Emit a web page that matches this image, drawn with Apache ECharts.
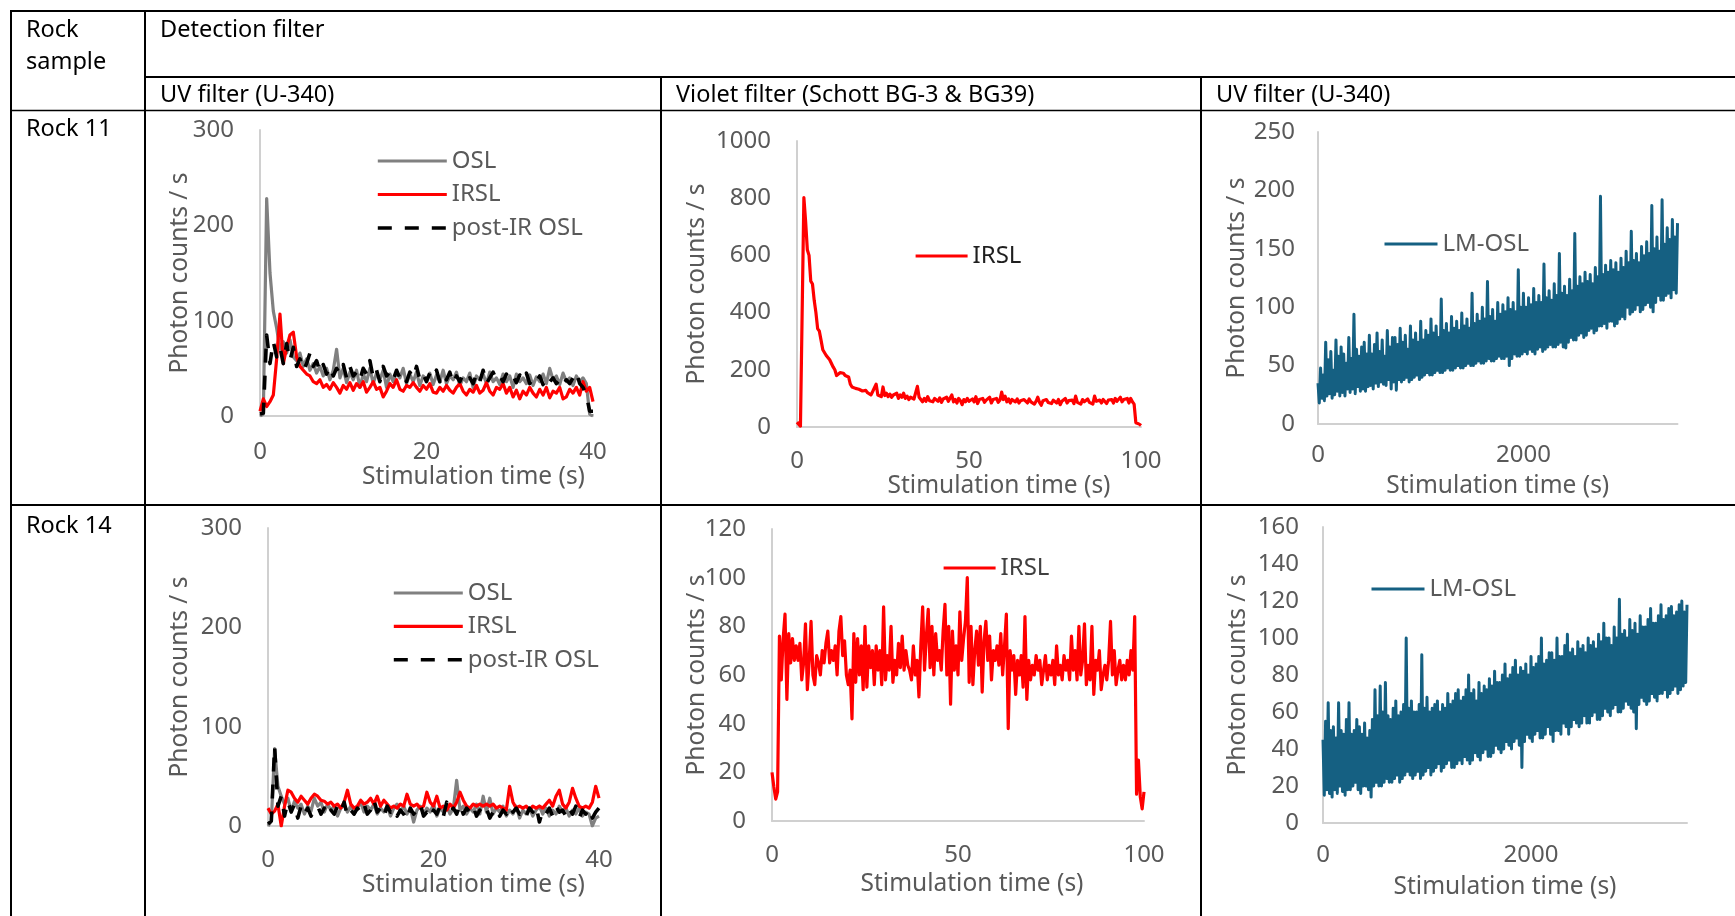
<!DOCTYPE html>
<html>
<head>
<meta charset="utf-8">
<title>Luminescence signals of rock samples</title>
<script src="https://cdn.jsdelivr.net/npm/echarts@6/dist/echarts.min.js"></script>
<style>
  html, body { margin: 0; padding: 0; background: #ffffff; }
  #chart { width: 1735px; height: 916px; }
</style>
</head>
<body>
<div id="chart"></div>
<script>
// ---------- Time axes (s) ----------
const timeShort = [0,0.4,0.8,1.2,1.6,2,2.4,2.8,3.2,3.6,4,4.4,4.8,5.2,5.6,6,6.4,6.8,7.2,7.6,8,8.4,8.8,9.2,9.6,10,10.4,10.8,11.2,11.6,12,12.4,12.8,13.2,13.6,14,14.4,14.8,15.2,15.6,16,16.4,16.8,17.2,17.6,18,18.4,18.8,19.2,19.6,20,20.4,20.8,21.2,21.6,22,22.4,22.8,23.2,23.6,24,24.4,24.8,25.2,25.6,26,26.4,26.8,27.2,27.6,28,28.4,28.8,29.2,29.6,30,30.4,30.8,31.2,31.6,32,32.4,32.8,33.2,33.6,34,34.4,34.8,35.2,35.6,36,36.4,36.8,37.2,37.6,38,38.4,38.8,39.2,39.6,40];
const timeLong = [0,0.5,1,1.5,2,2.5,3,3.5,4,4.5,5,5.5,6,6.5,7,7.5,8,8.5,9,9.5,10,10.5,11,11.5,12,12.5,13,13.5,14,14.5,15,15.5,16,16.5,17,17.5,18,18.5,19,19.5,20,20.5,21,21.5,22,22.5,23,23.5,24,24.5,25,25.5,26,26.5,27,27.5,28,28.5,29,29.5,30,30.5,31,31.5,32,32.5,33,33.5,34,34.5,35,35.5,36,36.5,37,37.5,38,38.5,39,39.5,40,40.5,41,41.5,42,42.5,43,43.5,44,44.5,45,45.5,46,46.5,47,47.5,48,48.5,49,49.5,50,50.5,51,51.5,52,52.5,53,53.5,54,54.5,55,55.5,56,56.5,57,57.5,58,58.5,59,59.5,60,60.5,61,61.5,62,62.5,63,63.5,64,64.5,65,65.5,66,66.5,67,67.5,68,68.5,69,69.5,70,70.5,71,71.5,72,72.5,73,73.5,74,74.5,75,75.5,76,76.5,77,77.5,78,78.5,79,79.5,80,80.5,81,81.5,82,82.5,83,83.5,84,84.5,85,85.5,86,86.5,87,87.5,88,88.5,89,89.5,90,90.5,91,91.5,92,92.5,93,93.5,94,94.5,95,95.5,96,96.5,97,97.5,98,98.5,99,99.5,100];
const timeLM = [0,12.5,25,37.5,50,62.5,75,87.5,100,112.5,125,137.5,150,162.5,175,187.5,200,212.5,225,237.5,
  250,262.5,275,287.5,300,312.5,325,337.5,350,362.5,375,387.5,400,412.5,425,437.5,450,462.5,475,487.5,
  500,512.5,525,537.5,550,562.5,575,587.5,600,612.5,625,637.5,650,662.5,675,687.5,700,712.5,725,737.5,
  750,762.5,775,787.5,800,812.5,825,837.5,850,862.5,875,887.5,900,912.5,925,937.5,950,962.5,975,987.5,
  1000,1012.5,1025,1037.5,1050,1062.5,1075,1087.5,1100,1112.5,1125,1137.5,1150,1162.5,1175,1187.5,1200,1212.5,1225,1237.5,
  1250,1262.5,1275,1287.5,1300,1312.5,1325,1337.5,1350,1362.5,1375,1387.5,1400,1412.5,1425,1437.5,1450,1462.5,1475,1487.5,
  1500,1512.5,1525,1537.5,1550,1562.5,1575,1587.5,1600,1612.5,1625,1637.5,1650,1662.5,1675,1687.5,1700,1712.5,1725,1737.5,
  1750,1762.5,1775,1787.5,1800,1812.5,1825,1837.5,1850,1862.5,1875,1887.5,1900,1912.5,1925,1937.5,1950,1962.5,1975,1987.5,
  2000,2012.5,2025,2037.5,2050,2062.5,2075,2087.5,2100,2112.5,2125,2137.5,2150,2162.5,2175,2187.5,2200,2212.5,2225,2237.5,
  2250,2262.5,2275,2287.5,2300,2312.5,2325,2337.5,2350,2362.5,2375,2387.5,2400,2412.5,2425,2437.5,2450,2462.5,2475,2487.5,
  2500,2512.5,2525,2537.5,2550,2562.5,2575,2587.5,2600,2612.5,2625,2637.5,2650,2662.5,2675,2687.5,2700,2712.5,2725,2737.5,
  2750,2762.5,2775,2787.5,2800,2812.5,2825,2837.5,2850,2862.5,2875,2887.5,2900,2912.5,2925,2937.5,2950,2962.5,2975,2987.5,
  3000,3012.5,3025,3037.5,3050,3062.5,3075,3087.5,3100,3112.5,3125,3137.5,3150,3162.5,3175,3187.5,3200,3212.5,3225,3237.5,
  3250,3262.5,3275,3287.5,3300,3312.5,3325,3337.5,3350,3362.5,3375,3387.5,3400,3412.5,3425,3437.5,3450,3462.5,3475,3487.5,
  3500];

// ---------- Rock 11, UV filter (U-340): photon counts / s ----------
const rock11OSL = [0,2,228,150,110,92,70,78,66,80, 62,58,66,52,60,48,55,45,52,42, 50,38,48,70,40,50,35,46,38,48, 30,44,36,50,34,45,38,48,30,44, 36,46,40,50,34,44,36,46,32,42, 38,45,33,43,36,48,34,42,38,46, 32,40,36,45,30,42,38,44,34,46, 36,40,33,44,36,42,30,44,36,40, 34,43,32,41,36,44,34,50,38,42, 33,45,36,40,32,42,36,40,34,2, 0];
const rock11IRSL = [5,18,10,15,22,60,107,55,72,85, 88,62,52,48,44,42,36,34,38,30, 33,28,35,30,24,32,28,35,27,34, 30,36,25,30,36,28,30,20,26,34, 30,38,28,26,32,30,35,30,26,32, 28,34,25,24,30,26,32,27,24,30, 34,26,22,28,25,32,24,27,35,26, 22,30,28,34,24,30,20,27,18,26, 22,30,24,20,28,22,30,19,26,24, 30,18,20,28,24,30,22,36,26,30, 15];
const rock11PostIR = [2,3,85,55,78,62,72,55,76,58, 72,52,60,48,55,66,52,58,46,54, 44,52,42,50,44,54,40,52,42,46, 38,50,44,58,40,48,36,52,42,46, 38,48,40,44,36,46,40,52,38,44, 36,45,40,48,36,44,38,46,34,42, 36,44,38,40,34,44,36,48,34,40, 46,38,42,36,44,38,42,35,43,37, 45,34,40,36,42,33,41,36,40,34, 38,32,38,34,40,46,34,30,22,5, 5];

// ---------- Rock 11, violet filter (Schott BG-3 & BG39): IRSL ----------
const rock11VioletIRSL = [17,10,3,0,802,720,620,600,510,500, 443,400,344,335,303,270,268,250,245,235, 239,210,200,180,175,190,195,188,180,185, 175,150,140,145,135,140,132,138,126,130, 128,120,126,112,124,130,150,112,118,106, 140,110,118,106,115,104,112,110,118,100, 112,104,118,100,108,96,104,110,98,94, 142,104,96,88,100,90,106,92,98,88, 100,94,90,102,86,98,92,104,90,96, 112,88,96,84,100,92,78,96,88,100, 90,84,98,88,106,82,96,90,100,86, 94,88,104,84,96,90,100,86,94,122, 96,108,88,98,84,96,90,88,98,84, 92,86,96,90,84,98,88,92,80,90, 104,86,76,92,88,96,86,90,82,94, 88,84,96,78,90,86,100,84,92,86, 94,82,108,86,90,80,96,88,84,98, 86,92,80,108,90,86,94,84,96,90, 82,94,88,96,84,100,90,86,104,88, 96,90,100,84,100,88,80,15,14,10, 5];

// ---------- Rock 11, UV filter (U-340): LM-OSL ----------
const rock11LMOSL = [
  35,18,48,22,42,20,70,24,55,26,62,22,46,25,72,28,58,24,66,27,
  60,24,52,30,74,27,56,30,94,26,64,32,58,28,66,30,70,28,60,32,
  76,33,60,30,68,35,78,32,62,36,72,34,58,33,80,38,66,30,74,36,
  74,29,68,38,82,36,70,38,76,40,64,36,84,38,72,40,78,42,70,38,
  88,40,72,42,80,44,76,42,90,42,78,44,84,46,74,44,107,44,80,46,
  86,48,78,46,92,46,82,48,88,50,80,48,95,48,84,50,90,52,82,50,
  112,50,86,52,94,54,88,52,100,52,90,54,122,56,92,54,98,54,88,56,
  104,58,94,56,102,56,96,58,108,50,98,56,104,60,96,58,132,58,100,60,
  112,62,100,60,108,64,102,62,116,60,104,64,110,66,104,62,137,64,108,66,
  114,68,106,66,120,66,110,68,146,70,112,66,118,65,110,70,124,74,114,72,
  163,72,118,76,126,78,120,74,130,76,122,80,128,82,120,78,134,80,126,84,
  195,84,128,86,136,82,130,88,140,88,132,84,138,86,130,90,142,92,134,90,
  148,100,138,94,165,96,140,98,146,102,138,96,152,98,144,102,156,104,146,100,
  187,96,150,104,160,110,148,106,192,106,154,110,168,112,158,108,175,115,160,112,
  172];

// ---------- Rock 14, UV filter (U-340) ----------
const rock14OSL = [0,5,78,40,30,22,28,15,25,18, 22,12,20,15,28,20,24,14,22,16, 20,10,18,22,14,20,12,18,24,14, 20,16,22,12,18,14,20,10,18,22, 14,20,12,18,4,16,20,12,18,14, 22,10,18,14,20,12,18,46,16,20, 12,18,14,22,12,30,14,28,12,18, 14,20,10,16,12,20,8,16,12,18, 10,16,20,12,18,10,16,12,20,14, 18,10,16,12,18,10,14,12,0,8, 10];
const rock14IRSL = [18,12,15,22,0,20,36,34,28,24, 30,26,22,28,32,30,26,25,22,24, 20,22,18,24,36,22,18,20,26,22, 24,28,22,30,20,26,22,18,20,18, 22,20,32,22,20,22,18,20,34,24, 20,30,18,20,16,22,18,24,34,26, 20,18,22,20,22,20,22,20,22,18, 20,18,16,40,24,18,20,18,20,16, 20,18,20,18,22,26,20,30,36,22, 18,24,38,28,20,18,20,18,24,40, 28];
const rock14PostIR = [2,5,80,20,30,10,25,14,22,8, 20,12,18,10,16,20,12,18,10,16, 12,20,14,24,10,16,12,18,14,22, 12,16,26,14,18,10,20,14,18,10, 16,12,6,18,12,16,22,10,14,8, 16,12,20,10,24,14,18,12,22,12, 18,14,20,10,16,12,18,8,14,18, 10,16,12,20,14,18,12,16,10,18, 14,20,4,16,12,18,10,20,14,16, 10,18,12,20,8,16,12,18,8,14, 18];

// ---------- Rock 14, violet filter (Schott BG-3 & BG39): IRSL ----------
const rock14VioletIRSL = [20,14,9,12,76,58,75,85,50,77, 65,75,66,72,66,73,58,65,81,54, 66,82,60,56,68,65,60,70,65,73, 78,65,70,66,72,60,78,84,68,74, 60,56,62,42,77,57,75,60,72,54, 80,55,72,63,70,56,72,62,70,56, 88,58,68,62,80,57,66,60,73,63, 76,62,70,64,62,58,72,60,66,51, 72,88,62,76,87,63,80,60,77,66, 70,62,78,89,60,80,48,78,62,72, 60,86,66,75,82,100,57,80,56,70, 78,64,80,53,74,82,66,76,58,70, 66,72,64,77,60,72,85,38,70,62, 68,52,66,60,68,55,84,50,66,58, 64,60,68,62,66,56,62,68,58,64, 60,66,56,72,60,64,58,68,62,66, 58,76,62,70,58,80,60,66,81,56, 64,58,80,52,66,62,70,54,60,64, 58,66,82,60,70,56,62,66,58,64, 58,66,60,70,62,84,11,25,10,5, 12];

// ---------- Rock 14, UV filter (U-340): LM-OSL ----------
const rock14LMOSL = [
  45,15,55,18,65,16,50,14,52,18,46,16,65,20,50,17,48,15,56,18,
  65,18,48,20,50,22,56,18,52,16,48,20,54,20,46,18,50,14,56,20,
  72,22,58,20,74,20,60,22,76,24,58,22,56,22,62,24,66,26,58,22,
  60,24,64,26,100,28,62,26,66,24,60,26,60,28,64,24,91,26,62,28,
  68,30,60,26,62,28,64,30,66,32,60,28,64,30,62,32,70,34,64,30,
  66,30,70,32,72,34,66,32,68,36,72,34,80,32,70,34,72,38,66,36,
  76,34,70,38,74,40,72,36,78,36,74,38,82,42,76,40,76,38,80,40,
  86,44,78,42,80,40,84,44,88,46,80,42,84,30,82,44,86,48,80,46,
  90,44,84,48,86,50,90,46,100,46,86,48,88,52,92,48,92,44,88,50,
  100,50,90,48,90,54,96,52,102,48,92,52,94,56,90,54,98,52,94,54,
  96,58,92,54,100,54,96,58,98,60,94,56,102,56,98,58,108,62,100,60,
  100,58,96,62,106,64,100,60,121,60,102,62,104,66,100,64,110,62,104,60,
  108,51,102,64,112,68,106,66,106,64,110,66,116,70,108,68,108,66,112,70,
  118,70,110,72,112,68,116,70,117,72,112,74,114,70,118,72,120,74,114,76,
  118];

// ---------- Table text ----------
const columnHeads = ['UV filter (U-340)', 'Violet filter (Schott BG-3 & BG39)', 'UV filter (U-340)'];
const rowHeads = ['Rock 11', 'Rock 14'];

// ---------- Styling ----------
const FONT = '"Noto Sans", "Open Sans", sans-serif';
const TEXT_GREY = '#595959';
const AXIS_GREY = '#d0d0d0';
const LINE = {
  osl:    { color: '#808080', width: 3.2, join: 'round' },
  irsl:   { color: '#ff0000', width: 3.2, join: 'round' },
  postIR: { color: '#000000', width: 3.6, type: [14, 13], join: 'round' },
  lm:     { color: '#156082', width: 3, join: 'round' }
};

// Panel layout: plot rectangle, axis ranges, label spacing and legend placement
const panels = [
  { grid: { left: 260, top: 130, width: 333, height: 286 },
    x: { max: 40, interval: 20, margin: 24, nameGap: 47, shift: 47 },
    y: { max: 300, interval: 100, margin: 26, nameGap: 67 },
    lines: [['OSL', timeShort, rock11OSL, LINE.osl], ['IRSL', timeShort, rock11IRSL, LINE.irsl], ['post-IR OSL', timeShort, rock11PostIR, LINE.postIR]],
    legend: { left: 376, top: 149, itemWidth: 69, itemGap: 9.5, color: TEXT_GREY } },
  { grid: { left: 797, top: 141, width: 344, height: 286 },
    x: { max: 100, interval: 50, margin: 22, nameGap: 40, shift: 30 },
    y: { max: 1000, interval: 200, margin: 26, nameGap: 87 },
    lines: [['IRSL', timeLong, rock11VioletIRSL, LINE.irsl]],
    legend: { left: 914, top: 244, itemWidth: 52, itemGap: 10, color: '#1f1f1f' } },
  { grid: { left: 1318, top: 132, width: 359.5, height: 292 },
    x: { max: 3500, interval: 2000, margin: 19, nameGap: 50, shift: 0, hideMax: true },
    y: { max: 250, interval: 50, margin: 23, nameGap: 68 },
    lines: [['LM-OSL', timeLM, rock11LMOSL, LINE.lm]],
    legend: { left: 1383, top: 232, itemWidth: 53, itemGap: 10, color: TEXT_GREY } },
  { grid: { left: 268, top: 528, width: 331, height: 298 },
    x: { max: 40, interval: 20, margin: 22, nameGap: 45, shift: 40 },
    y: { max: 300, interval: 100, margin: 26, nameGap: 75 },
    lines: [['OSL', timeShort, rock14OSL, LINE.osl], ['IRSL', timeShort, rock14IRSL, LINE.irsl], ['post-IR OSL', timeShort, rock14PostIR, LINE.postIR]],
    legend: { left: 392, top: 581, itemWidth: 69, itemGap: 9.4, color: TEXT_GREY } },
  { grid: { left: 772, top: 529, width: 372, height: 292 },
    x: { max: 100, interval: 50, margin: 22, nameGap: 51, shift: 14 },
    y: { max: 120, interval: 20, margin: 26, nameGap: 62 },
    lines: [['IRSL', timeLong, rock14VioletIRSL, LINE.irsl]],
    legend: { left: 942, top: 556, itemWidth: 52, itemGap: 10, color: '#404040' } },
  { grid: { left: 1323, top: 527, width: 364, height: 296 },
    x: { max: 3500, interval: 2000, margin: 20, nameGap: 52, shift: 0, hideMax: true },
    y: { max: 160, interval: 20, margin: 24, nameGap: 72 },
    lines: [['LM-OSL', timeLM, rock14LMOSL, LINE.lm]],
    legend: { left: 1370, top: 577, itemWidth: 53, itemGap: 10, color: TEXT_GREY } }
];

const textStyle = (size, color) => ({ fontSize: size, fontFamily: FONT, color: color });
const plainNumber = v => String(v);

const grid = [], xAxis = [], yAxis = [], series = [], legend = [];
panels.forEach((p, i) => {
  grid.push(Object.assign({ containLabel: false }, p.grid));
  const xLabel = Object.assign({ margin: p.x.margin, formatter: plainNumber }, textStyle(24, TEXT_GREY));
  if (p.x.hideMax) xLabel.showMaxLabel = false;
  xAxis.push({
    gridIndex: i, type: 'value', min: 0, max: p.x.max, interval: p.x.interval,
    axisLine: { show: true, onZero: false, lineStyle: { color: AXIS_GREY, width: 2 } },
    axisTick: { show: false }, splitLine: { show: false },
    axisLabel: xLabel,
    name: 'Stimulation time (s)', nameLocation: 'middle', nameGap: p.x.nameGap,
    nameTextStyle: Object.assign({ padding: [0, 0, 0, 2 * p.x.shift] }, textStyle(24.5, TEXT_GREY))
  });
  yAxis.push({
    gridIndex: i, type: 'value', min: 0, max: p.y.max, interval: p.y.interval,
    axisLine: { show: true, onZero: false, lineStyle: { color: AXIS_GREY, width: 2 } },
    axisTick: { show: false }, splitLine: { show: false },
    axisLabel: Object.assign({ margin: p.y.margin, formatter: plainNumber }, textStyle(24, TEXT_GREY)),
    name: 'Photon counts / s', nameLocation: 'middle', nameGap: p.y.nameGap,
    nameMoveOverlap: false,
    nameTextStyle: textStyle(24.5, TEXT_GREY)
  });
  p.lines.forEach(([name, time, values, style]) => {
    series.push({
      type: 'line', name: name, xAxisIndex: i, yAxisIndex: i,
      data: time.map((t, k) => [t, values[k]]),
      showSymbol: false, symbol: 'none', lineStyle: style,
      itemStyle: { color: style.color }, emphasis: { disabled: true }
    });
  });
  legend.push({
    orient: 'vertical', left: p.legend.left, top: p.legend.top, padding: 0,
    itemWidth: p.legend.itemWidth, itemHeight: 14, itemGap: p.legend.itemGap,
    selectedMode: false,
    data: p.lines.map(l => l[0]),
    itemStyle: { opacity: 0 },
    lineStyle: { width: 'inherit', type: 'inherit' },
    textStyle: textStyle(24, p.legend.color)
  });
});

// Table rules: [x1, y1, x2, y2, width]
const rules = [
  [10, 11, 1735, 11, 2], [145, 77, 1735, 77, 2], [10, 110.5, 1735, 110.5, 1.4], [10, 505, 1735, 505, 2],
  [11, 10, 11, 916, 2], [145, 10, 145, 916, 2], [661, 76, 661, 916, 2], [1201, 76, 1201, 916, 2]
];
const cellFont = '23.5px "Noto Sans", "Open Sans", sans-serif';
const cellTexts = [
  ['Rock', 26, 30.5], ['sample', 26, 62.5], ['Detection filter', 160, 30.5],
  [columnHeads[0], 160, 95.5], [columnHeads[1], 676, 95.5], [columnHeads[2], 1216, 95.5],
  [rowHeads[0], 26, 129.5], [rowHeads[1], 26, 526]
];
const graphic = [];
rules.forEach(([x1, y1, x2, y2, w]) => graphic.push({
  type: 'line', shape: { x1, y1, x2, y2 }, style: { stroke: '#000000', lineWidth: w }, silent: true, z: 10
}));
cellTexts.forEach(([text, x, y]) => graphic.push({
  type: 'text', x: x, y: y, silent: true, z: 10,
  style: { text: text, font: cellFont, fill: '#000000', verticalAlign: 'middle', align: 'left' }
}));

const chart = echarts.init(document.getElementById('chart'), null, { renderer: 'canvas' });
chart.setOption({
  backgroundColor: '#ffffff',
  animation: false,
  grid, xAxis, yAxis, series, legend,
  graphic: { elements: graphic }
});
</script>
</body>
</html>
